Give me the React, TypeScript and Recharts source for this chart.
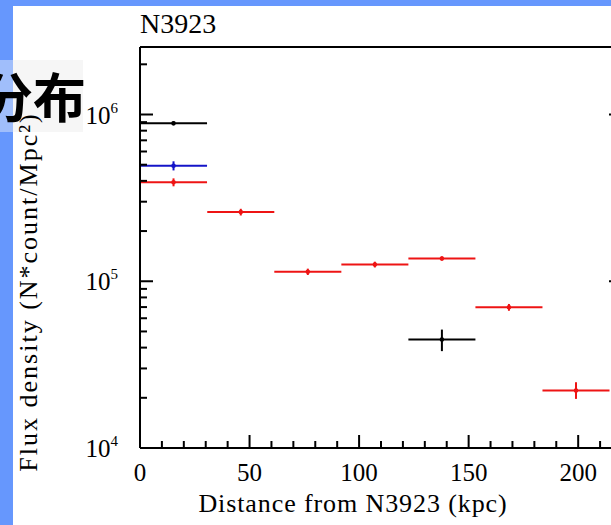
import { ScatterChart, Scatter, XAxis, YAxis, ErrorBar } from 'recharts'

// distance bins (kpc), all bins are the same width
const binHalfWidth = 15.3

const redDistance = [15.3, 46.0, 76.6, 107.2, 137.8, 168.4, 199.0]
const redFlux = [3.92e5, 2.6e5, 1.14e5, 1.26e5, 1.37e5, 6.98e4, 2.21e4]
const redFluxErr: [number, number][] = [
  [2.1e4, 2.2e4], [1.2e4, 1.2e4], [5e3, 5e3], [5e3, 5e3], [4e3, 4e3], [3.3e3, 3.3e3], [2.4e3, 2.7e3],
]

const blackDistance = [15.3, 137.8]
const blackFlux = [8.86e5, 4.47e4]
const blackFluxErr: [number, number][] = [[2.5e4, 2.5e4], [6.6e3, 6.6e3]]

const blueDistance = [15.3]
const blueFlux = [4.93e5]
const blueFluxErr: [number, number][] = [[3.1e4, 3.1e4]]

const xTicks = [0, 10, 20, 30, 40, 50, 60, 70, 80, 90, 100, 110, 120, 130, 140, 150, 160, 170, 180, 190, 200, 210, 220]
const xMajor = [0, 50, 100, 150, 200]
const yTicks = [
  1e4, 2e4, 3e4, 4e4, 5e4, 6e4, 7e4, 8e4, 9e4,
  1e5, 2e5, 3e5, 4e5, 5e5, 6e5, 7e5, 8e5, 9e5,
  1e6, 2e6,
]
const yDomain: [number, number] = [1e4, 2.54e6]

const FONT = '"Liberation Serif", "Times New Roman", serif'
const RED = '#ee1414'
const BLUE = '#1414c8'
const BLACK = '#000'

// plot box inside the 640x525 chart
const PLOT_TOP = 47
const PLOT_BOTTOM = 448

const toRows = (xs: number[], ys: number[], errs: [number, number][]) =>
  xs.map((x, i) => ({ x, y: ys[i], xErr: binHalfWidth, yErr: errs[i] }))

const redRows = toRows(redDistance, redFlux, redFluxErr)
const blackRows = toRows(blackDistance, blackFlux, blackFluxErr)
const blueRows = toRows(blueDistance, blueFlux, blueFluxErr)

const isDecade = (v: number) => {
  const e = Math.log10(v)
  return Math.abs(e - Math.round(e)) < 1e-6
}

function BottomTick({ x, payload }: any) {
  const major = xMajor.includes(payload.value)
  const y = PLOT_BOTTOM
  return (
    <g>
      <line x1={x} x2={x} y1={y} y2={y - (major ? 13 : 7)} stroke="#000" strokeWidth={2} />
      {major && (
        <text x={x} y={y + 33} textAnchor="middle" fontSize={25} fontFamily={FONT} fill="#000">
          {payload.value}
        </text>
      )}
    </g>
  )
}

function TopTick({ x, payload }: any) {
  const major = xMajor.includes(payload.value)
  const y = PLOT_TOP
  return <line x1={x} x2={x} y1={y} y2={y + (major ? 15 : 7)} stroke="#000" strokeWidth={2} />
}

function LeftTick({ x, y, payload }: any) {
  const major = isDecade(payload.value)
  return (
    <g>
      <line x1={x} x2={x + (major ? 13 : 7)} y1={y} y2={y} stroke="#000" strokeWidth={2} />
      {major && (
        <text x={x - 22} y={y + 9} textAnchor="end" fontSize={25} fontFamily={FONT} fill="#000">
          10
          <tspan fontSize={15} dy={-11}>{Math.round(Math.log10(payload.value))}</tspan>
        </text>
      )}
    </g>
  )
}

function RightTick({ x, y, payload }: any) {
  const major = isDecade(payload.value)
  return <line x1={x} x2={x - (major ? 13 : 7)} y1={y} y2={y} stroke="#000" strokeWidth={2} />
}

const dot = (color: string) => (p: any) => <circle cx={p.cx} cy={p.cy} r={2.3} fill={color} />

function Series({ rows, color }: { rows: any[]; color: string }) {
  return (
    <Scatter data={rows} dataKey="y" xAxisId="b" yAxisId="l" shape={dot(color)} isAnimationActive={false}>
      <ErrorBar dataKey="xErr" direction="x" width={0} stroke={color} strokeWidth={2} />
      <ErrorBar dataKey="yErr" direction="y" width={0} stroke={color} strokeWidth={2} />
    </Scatter>
  )
}

export default function App() {
  const axisLine = { stroke: '#000', strokeWidth: 2 }
  // axes get a 1px band so recharts still draws them; ticks are drawn by hand
  const axisCommon = { tickSize: 0, tickMargin: 0, tickLine: false, axisLine, interval: 0 as const }
  return (
    <div style={{ position: 'fixed', left: 0, top: 0, width: 611, height: 525, overflow: 'hidden', background: '#fff' }}>
      <ScatterChart width={640} height={525} margin={{ top: 46, right: 17, bottom: 76, left: 139 }}>
        <XAxis xAxisId="b" type="number" dataKey="x" domain={[0, 220]} ticks={xTicks} height={1}
          {...axisCommon} tick={<BottomTick />} />
        <XAxis xAxisId="t" orientation="top" type="number" domain={[0, 220]} ticks={xTicks} height={1}
          {...axisCommon} tick={<TopTick />} />
        <YAxis yAxisId="l" type="number" scale="log" domain={yDomain} ticks={yTicks} allowDataOverflow width={1}
          {...axisCommon} tick={<LeftTick />} />
        <YAxis yAxisId="r" orientation="right" type="number" scale="log" domain={yDomain} ticks={yTicks}
          allowDataOverflow width={1} {...axisCommon} tick={<RightTick />} />
        <Series rows={blackRows} color={BLACK} />
        <Series rows={blueRows} color={BLUE} />
        <Series rows={redRows} color={RED} />
      </ScatterChart>

      {/* slide frame, headings and axis titles */}
      <svg width={611} height={525} style={{ position: 'absolute', left: 0, top: 0, pointerEvents: 'none' }}>
        <rect x={0} y={0} width={611} height={6} fill="#6697fd" />
        <rect x={0} y={0} width={13} height={525} fill="#6697fd" />
        <rect x={0} y={60} width={13} height={72} fill="#a0befb" />
        <rect x={13} y={60} width={70} height={72} fill="#f0f0f0" opacity={0.6} />
        <text x={140} y={33} fontSize={28} fontFamily={FONT} fill="#000">N3923</text>
        <text x={353} y={512} textAnchor="middle" fontSize={26} letterSpacing={0.9} fontFamily={FONT} fill="#000">
          Distance from N3923 (kpc)
        </text>
        <text transform="translate(37 292) rotate(-90)" textAnchor="middle" fontSize={26} letterSpacing={2}
          fontFamily={FONT} fill="#000">
          Flux density (N*count/Mpc²)
        </text>
        <text x={-20} y={118} fontSize={53} fontWeight={700} fontFamily='"Noto Sans CJK SC", sans-serif' fill="#000">
          分布
        </text>
      </svg>
    </div>
  )
}
